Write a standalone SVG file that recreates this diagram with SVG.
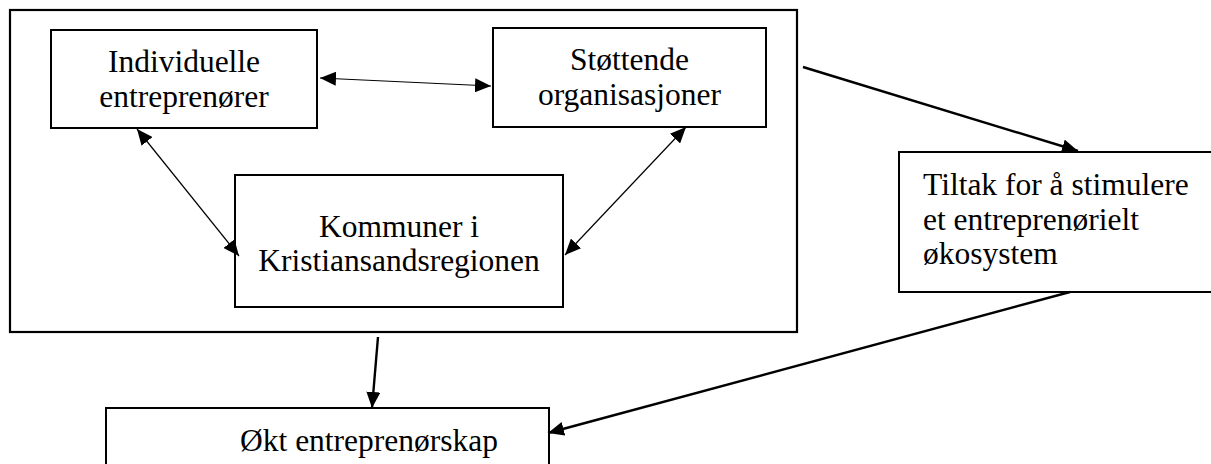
<svg xmlns="http://www.w3.org/2000/svg" width="1211" height="464" viewBox="0 0 1211 464">
<style>
.box{fill:#fff;stroke:#000;stroke-width:2}
.frame{fill:none;stroke:#000;stroke-width:2.2}
.t{font-family:"Liberation Serif","Times New Roman",serif;font-size:31.5px;fill:#000}
.c{text-anchor:middle}
.thin{stroke:#000;stroke-width:1.2;fill:none}
.thick{stroke:#000;stroke-width:2.4;fill:none}
</style>
<defs>
<marker id="ah" markerUnits="userSpaceOnUse" markerWidth="16" markerHeight="14" refX="16" refY="7" orient="auto-start-reverse" viewBox="0 0 16 14">
<path d="M0,0 L16,7 L0,14 z" fill="#000"/>
</marker>
<marker id="ahb" markerUnits="userSpaceOnUse" markerWidth="16" markerHeight="14" refX="16" refY="7" orient="auto" viewBox="0 0 16 14">
<path d="M0,0 L16,7 L0,14 z" fill="#000"/>
</marker>
</defs>
<rect width="1211" height="464" fill="#fff"/>
<g id="frame"><rect class="frame" x="10" y="10" width="787" height="322"/></g>
<g id="individuelle">
<rect class="box" x="51" y="30" width="266" height="98"/>
<text class="t c" x="184" y="72">Individuelle</text>
<text class="t c" x="184" y="107">entreprenører</text>
</g>
<g id="stottende">
<rect class="box" x="493" y="28" width="273" height="99"/>
<text class="t c" x="629.5" y="70">Støttende</text>
<text class="t c" x="629.5" y="105">organisasjoner</text>
</g>
<g id="kommuner">
<rect class="box" x="235" y="175" width="328" height="132"/>
<text class="t c" x="399" y="237">Kommuner i</text>
<text class="t c" x="399" y="271">Kristiansandsregionen</text>
</g>
<g id="tiltak">
<rect class="box" x="899" y="152" width="320" height="140"/>
<text class="t" x="923" y="195">Tiltak for å stimulere</text>
<text class="t" x="923" y="230">et entreprenørielt</text>
<text class="t" x="923" y="264">økosystem</text>
</g>
<g id="okt">
<rect class="box" x="106" y="408" width="443" height="60"/>
<text class="t" x="240" y="451">Økt entreprenørskap</text>
</g>
<g id="connectors">
<line class="thin" x1="320" y1="78" x2="491" y2="86" marker-start="url(#ah)" marker-end="url(#ah)"/>
<line class="thin" x1="137" y1="129" x2="239" y2="256" marker-start="url(#ah)" marker-end="url(#ah)"/>
<line class="thin" x1="686" y1="127" x2="565" y2="255" marker-start="url(#ah)" marker-end="url(#ah)"/>
<line class="thick" x1="803" y1="67" x2="1078" y2="151" marker-end="url(#ahb)"/>
<line class="thick" x1="1070" y1="292" x2="548" y2="433" marker-end="url(#ahb)"/>
<line class="thick" x1="378" y1="337" x2="372" y2="408" marker-end="url(#ahb)"/>
</g>
</svg>
